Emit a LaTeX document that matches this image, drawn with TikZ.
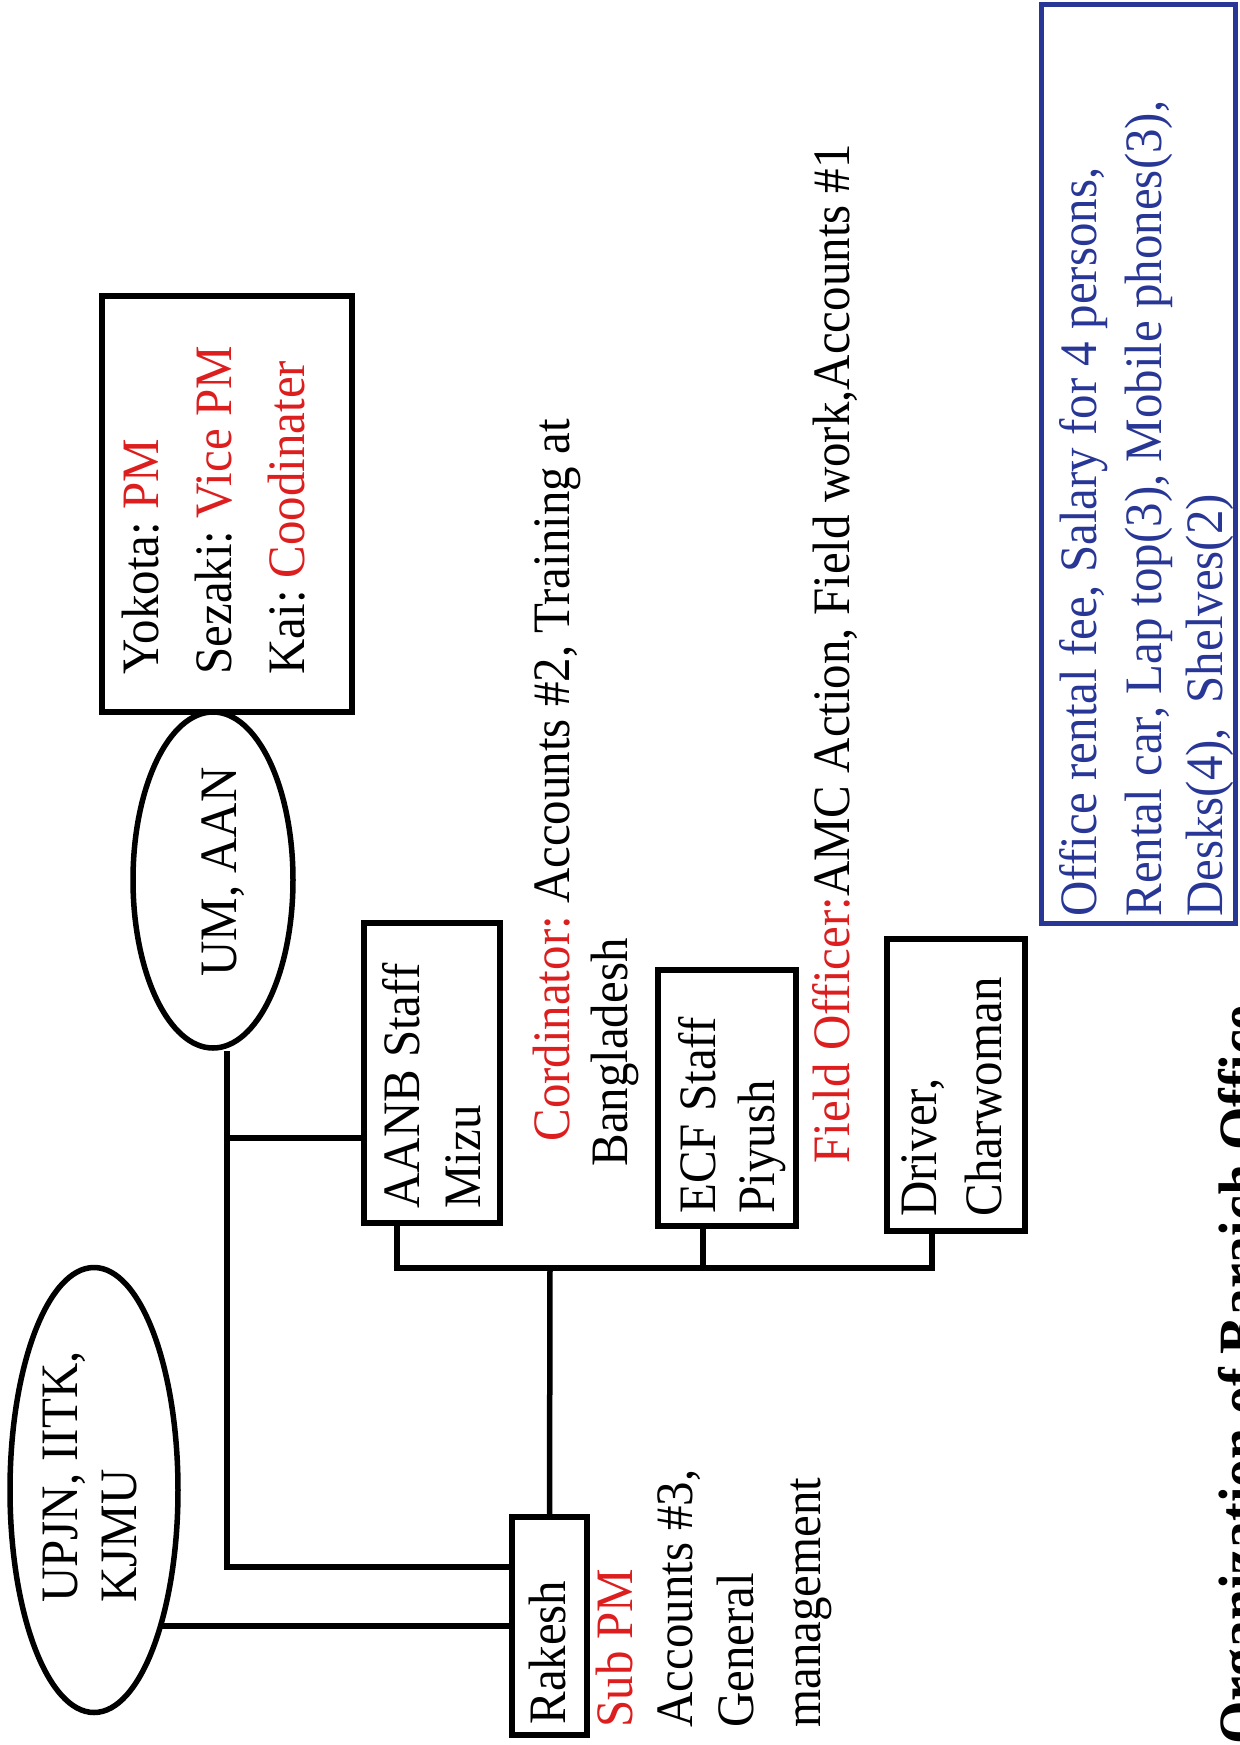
\documentclass[tikz,border=0pt]{standalone}
\usepackage{fontspec}
\setmainfont{Liberation Serif}[FakeStretch=0.93]
\usetikzlibrary{shapes.geometric}
\definecolor{pmred}{RGB}{220,30,30}
\definecolor{costblue}{RGB}{40,55,150}
\tikzset{
  orgbox/.style={draw, line width=2.75pt, inner sep=0pt},
  orgoval/.style={draw, ellipse, line width=2.75pt, inner sep=0pt},
  link/.style={line width=2.75pt},
  lbl/.style={rotate=90, anchor=base west, inner sep=0pt, font=\fontsize{26.3}{30}\selectfont},
}
\frenchspacing
\begin{document}
\begin{tikzpicture}[x=0.5pt, y=-0.5pt]
        \useasboundingbox (0,0) rectangle (1240,1745);
        % boxes and ovals
        \node[orgbox, minimum width=125pt, minimum height=208pt] (yokbox) at (227,504) {};
        \node[orgoval, minimum width=80pt, minimum height=168pt] (umaan) at (213,880) {};
        \node[orgoval, minimum width=84pt, minimum height=222.5pt] (upjn) at (94,1490) {};
        \node[orgbox, minimum width=68pt, minimum height=150pt] (aanb) at (432,1073) {};
        \node[orgbox, minimum width=69pt, minimum height=128pt] (ecf) at (727,1098) {};
        \node[orgbox, minimum width=69pt, minimum height=146pt] (driver) at (956,1085) {};
        \node[orgbox, minimum width=37.5pt, minimum height=109pt] (rakesh) at (549.5,1626) {};
        \node[draw=costblue, line width=2.5pt, inner sep=0pt, minimum width=97pt, minimum height=459.5pt] (costbox) at (1138,463.5) {};

        % connectors
        \coordinate (aanbfoot) at ([xshift=-17.5pt]aanb.south);
        \coordinate (ecffoot) at ([xshift=-12pt]ecf.south);
        \coordinate (drvfoot) at ([xshift=-12pt]driver.south);
        \coordinate (bus) at (550,1268);
        \draw[link] ([xshift=7pt]umaan.south) |- ([yshift=29.5pt]rakesh.west);
        \draw[link] ([yshift=-32.5pt]aanb.west) -- +(-137,0);
        \draw[link] (rakesh.west) -- (rakesh.west -| upjn.-65);
        \draw[link] (aanbfoot) |- (bus) -| (drvfoot);
        \draw[link] (ecffoot) -- (ecffoot |- bus);
        \draw[link] (rakesh.north) -- (bus);

        % texts
        \node[lbl] (yok1) at (158,675) {Yokota: \textcolor{pmred}{PM}};
        \node[lbl] (yok2) at (231,675) {Sezaki: \textcolor{pmred}{Vice PM}};
        \node[lbl] (yok3) at (304,675) {Kai: \textcolor{pmred}{Coodinater}};
        \node[lbl] (umtxt) at (236,977) {UM, AAN};
        \node[lbl] (upjn1) at (77,1603) {UPJN, IITK,};
        \node[lbl] (upjn2) at (136,1603) {KJMU};
        \node[lbl] (aanb1) at (419,1209) {AANB Staff};
        \node[lbl] (aanb2) at (480,1209) {Mizu};
        \node[lbl] (ecf1) at (715,1214) {ECF Staff};
        \node[lbl] (ecf2) at (774,1214) {Piyush};
        \node[lbl] (drv1) at (936,1217) {Driver,};
        \node[lbl] (drv2) at (1001,1217) {Charwoman};
        \node[lbl] (rak) at (565,1725) {Rakesh};
        \node[lbl, text=pmred] (subpm) at (632,1728) {Sub PM};
        \node[lbl] (rak1) at (692,1728) {Accounts \#3,};
        \node[lbl] (rak2) at (753,1728) {General};
        \node[lbl] (rak3) at (820,1728) {management};
        \node[lbl] (cord1) at (569,1142) {\textcolor{pmred}{Cordinator:} Accounts \#2, Training at};
        \node[lbl] (cord2) at (627,1167) {Bangladesh};
        \node[lbl] (field) at (849,1164) {\textcolor{pmred}{Field Officer:}AMC Action, Field work,Accounts \#1};
        \node[lbl, text=costblue] (cost1) at (1096,917) {Office rental fee, Salary for 4 persons,};
        \node[lbl, text=costblue] (cost2) at (1161,917) {Rental car, Lap top(3), Mobile phones(3),};
        \node[lbl, text=costblue] (cost3) at (1222,917) {Desks(4),\ \ Shelves(2)};
        \node[lbl, font=\bfseries\fontsize{30}{36}\selectfont] (title) at (1260,1745) {Organization of Baraich Office};
\end{tikzpicture}
\end{document}
